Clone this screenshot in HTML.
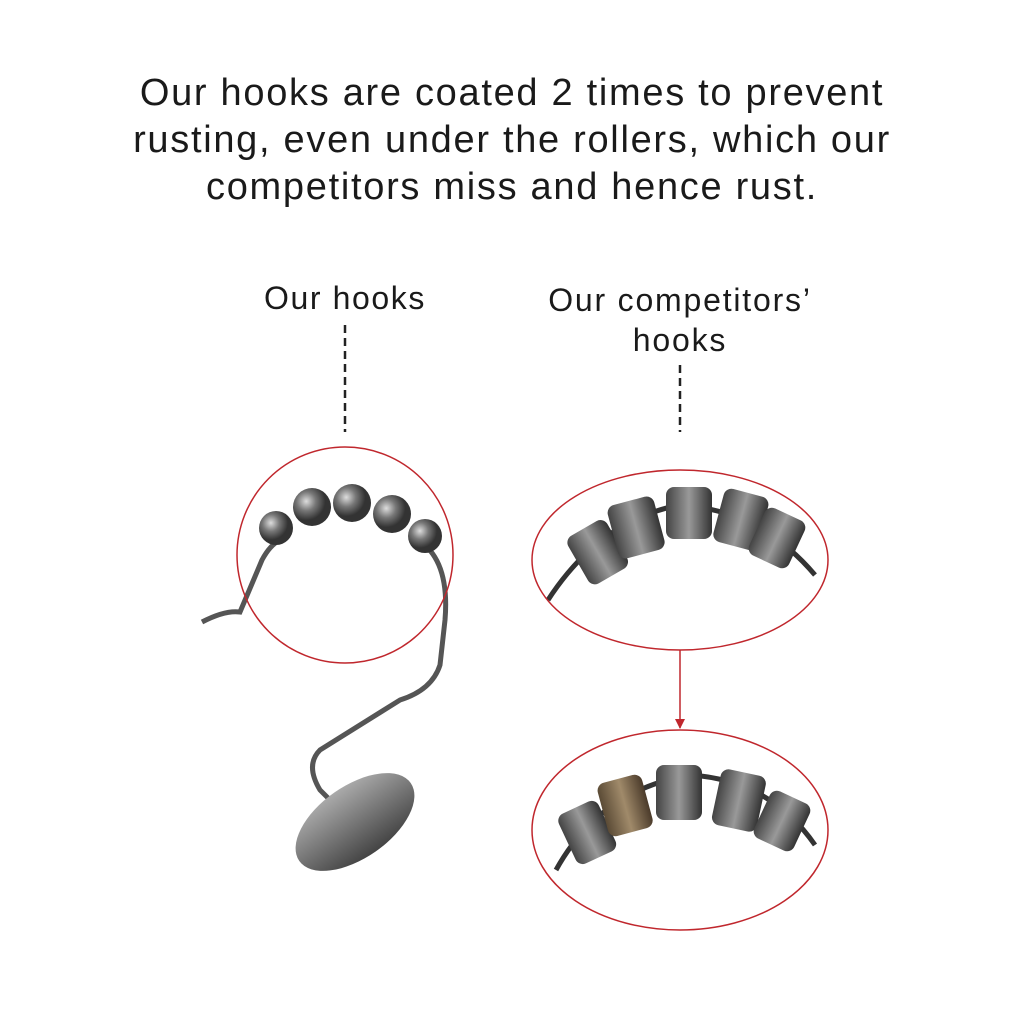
<!DOCTYPE html>
<html><head><meta charset="utf-8"><style>
body{margin:0;background:#fff;width:1024px;height:1024px;overflow:hidden;font-family:"Liberation Sans",sans-serif}
.t{position:absolute;left:0;width:1024px;text-align:center;color:#1a1a1a}
</style></head><body>
<div class="t" style="top:70px;font-size:38px;line-height:47px;letter-spacing:1.7px">Our hooks are coated 2 times to prevent<br>rusting, even under the rollers, which our<br>competitors miss and hence rust.</div>
<div class="t" style="top:280px;left:145px;width:400px;font-size:32px;letter-spacing:1.6px">Our hooks</div>
<div class="t" style="top:280px;left:480px;width:400px;font-size:32px;line-height:40px;letter-spacing:1.8px">Our competitors’<br>hooks</div>
<svg width="1024" height="1024" style="position:absolute;left:0;top:0">
<defs>
<radialGradient id="b" cx="35%" cy="35%"><stop offset="0" stop-color="#ddd"/><stop offset=".5" stop-color="#777"/><stop offset="1" stop-color="#333"/></radialGradient>
<linearGradient id="c" x1="0" x2="1"><stop offset="0" stop-color="#444"/><stop offset=".5" stop-color="#999"/><stop offset="1" stop-color="#333"/></linearGradient>
<linearGradient id="r" x1="0" x2="1"><stop offset="0" stop-color="#5a4a35"/><stop offset=".5" stop-color="#a08a6a"/><stop offset="1" stop-color="#4a3a2a"/></linearGradient>
<linearGradient id="d" x1="0" y1="0" x2="0" y2="1"><stop offset="0" stop-color="#aaa"/><stop offset="1" stop-color="#444"/></linearGradient>
<marker id="a" markerWidth="10" markerHeight="10" refX="9" refY="5" orient="auto" markerUnits="userSpaceOnUse"><path d="M0,0 L10,5 L0,10z" fill="#c0272d"/></marker>
</defs>
<line x1="345" y1="325" x2="345" y2="432" stroke="#222" stroke-width="2.5" stroke-dasharray="8,5"/>
<line x1="680" y1="365" x2="680" y2="432" stroke="#222" stroke-width="2.5" stroke-dasharray="8,5"/>
<path d="M202,622 Q225,610 240,612 L262,560 Q270,545 280,540" fill="none" stroke="#555" stroke-width="5"/>
<path d="M418,540 Q450,560 445,620 L440,665 Q432,690 400,700 L320,750 Q305,765 320,790 L340,810" fill="none" stroke="#555" stroke-width="5"/>
<ellipse cx="355" cy="822" rx="68" ry="36" fill="url(#d)" transform="rotate(-35 355 822)"/>
<circle cx="276" cy="528" r="17" fill="url(#b)"/>
<circle cx="312" cy="507" r="19" fill="url(#b)"/>
<circle cx="352" cy="503" r="19" fill="url(#b)"/>
<circle cx="392" cy="514" r="19" fill="url(#b)"/>
<circle cx="425" cy="536" r="17" fill="url(#b)"/>
<circle cx="345" cy="555" r="108" fill="none" stroke="#c0272d" stroke-width="1.5"/>
<path d="M548,600 Q600,520 680,505 Q760,510 815,575" fill="none" stroke="#333" stroke-width="5"/>
<g fill="url(#c)">
<rect x="575" y="525" width="45" height="55" rx="8" transform="rotate(-30 597 552)"/>
<rect x="612" y="500" width="48" height="55" rx="8" transform="rotate(-15 636 527)"/>
<rect x="666" y="487" width="46" height="52" rx="8"/>
<rect x="718" y="492" width="46" height="55" rx="8" transform="rotate(15 741 519)"/>
<rect x="755" y="512" width="44" height="52" rx="8" transform="rotate(25 777 538)"/>
</g>
<ellipse cx="680" cy="560" rx="148" ry="90" fill="none" stroke="#c0272d" stroke-width="1.5"/>
<line x1="680" y1="650" x2="680" y2="728" stroke="#c0272d" stroke-width="1.5" marker-end="url(#a)"/>
<path d="M556,870 Q600,790 690,775 Q770,780 815,845" fill="none" stroke="#333" stroke-width="5"/>
<g>
<rect x="565" y="805" width="44" height="55" rx="8" fill="url(#c)" transform="rotate(-25 587 832)"/>
<rect x="602" y="778" width="46" height="55" rx="8" fill="url(#r)" transform="rotate(-15 625 805)"/>
<rect x="656" y="765" width="46" height="55" rx="8" fill="url(#c)"/>
<rect x="716" y="772" width="46" height="57" rx="8" fill="url(#c)" transform="rotate(12 739 800)"/>
<rect x="760" y="795" width="44" height="52" rx="8" fill="url(#c)" transform="rotate(25 782 821)"/>
</g>
<ellipse cx="680" cy="830" rx="148" ry="100" fill="none" stroke="#c0272d" stroke-width="1.5"/>
</svg>
</body></html>
